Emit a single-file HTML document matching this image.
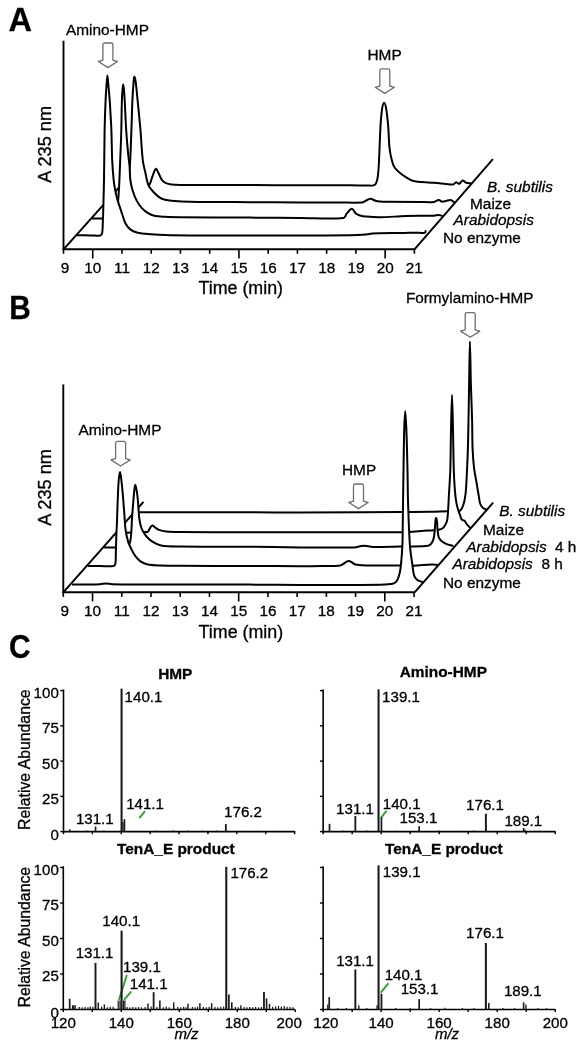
<!DOCTYPE html>
<html><head><meta charset="utf-8"><style>
html,body{margin:0;padding:0;background:#fff;width:585px;height:1050px;overflow:hidden}
svg{display:block;font-family:"Liberation Sans",sans-serif;will-change:transform;filter:blur(0.35px)}
text{fill:#000;stroke:#000;stroke-width:0.3px}
</style></head><body>
<svg width="585" height="1050" viewBox="0 0 585 1050">
<rect width="585" height="1050" fill="#fff"/>
<line x1="63.50" y1="40.70" x2="63.50" y2="250.25" stroke="#000" stroke-width="1.90"/>
<line x1="62.55" y1="249.30" x2="414.50" y2="249.30" stroke="#000" stroke-width="1.90"/>
<line x1="63.50" y1="249.30" x2="63.50" y2="253.70" stroke="#000" stroke-width="1.60"/>
<text x="64.90" y="272.70" font-size="15.30" font-weight="normal" font-style="normal" text-anchor="middle" >9</text>
<line x1="92.74" y1="249.30" x2="92.74" y2="258.50" stroke="#000" stroke-width="1.60"/>
<text x="92.74" y="272.70" font-size="15.30" font-weight="normal" font-style="normal" text-anchor="middle" >10</text>
<line x1="121.98" y1="249.30" x2="121.98" y2="253.70" stroke="#000" stroke-width="1.60"/>
<text x="121.98" y="272.70" font-size="15.30" font-weight="normal" font-style="normal" text-anchor="middle" >11</text>
<line x1="151.22" y1="249.30" x2="151.22" y2="253.70" stroke="#000" stroke-width="1.60"/>
<text x="151.22" y="272.70" font-size="15.30" font-weight="normal" font-style="normal" text-anchor="middle" >12</text>
<line x1="180.46" y1="249.30" x2="180.46" y2="253.70" stroke="#000" stroke-width="1.60"/>
<text x="180.46" y="272.70" font-size="15.30" font-weight="normal" font-style="normal" text-anchor="middle" >13</text>
<line x1="209.70" y1="249.30" x2="209.70" y2="253.70" stroke="#000" stroke-width="1.60"/>
<text x="209.70" y="272.70" font-size="15.30" font-weight="normal" font-style="normal" text-anchor="middle" >14</text>
<line x1="238.94" y1="249.30" x2="238.94" y2="258.50" stroke="#000" stroke-width="1.60"/>
<text x="238.94" y="272.70" font-size="15.30" font-weight="normal" font-style="normal" text-anchor="middle" >15</text>
<line x1="268.18" y1="249.30" x2="268.18" y2="253.70" stroke="#000" stroke-width="1.60"/>
<text x="268.18" y="272.70" font-size="15.30" font-weight="normal" font-style="normal" text-anchor="middle" >16</text>
<line x1="297.42" y1="249.30" x2="297.42" y2="253.70" stroke="#000" stroke-width="1.60"/>
<text x="297.42" y="272.70" font-size="15.30" font-weight="normal" font-style="normal" text-anchor="middle" >17</text>
<line x1="326.66" y1="249.30" x2="326.66" y2="253.70" stroke="#000" stroke-width="1.60"/>
<text x="326.66" y="272.70" font-size="15.30" font-weight="normal" font-style="normal" text-anchor="middle" >18</text>
<line x1="355.90" y1="249.30" x2="355.90" y2="253.70" stroke="#000" stroke-width="1.60"/>
<text x="355.90" y="272.70" font-size="15.30" font-weight="normal" font-style="normal" text-anchor="middle" >19</text>
<line x1="385.14" y1="249.30" x2="385.14" y2="258.50" stroke="#000" stroke-width="1.60"/>
<text x="385.14" y="272.70" font-size="15.30" font-weight="normal" font-style="normal" text-anchor="middle" >20</text>
<line x1="414.38" y1="249.30" x2="414.38" y2="253.70" stroke="#000" stroke-width="1.60"/>
<text x="414.38" y="272.70" font-size="15.30" font-weight="normal" font-style="normal" text-anchor="middle" >21</text>
<text x="240.75" y="293.60" font-size="17.85" font-weight="normal" font-style="normal" text-anchor="middle" >Time (min)</text>
<text x="51.00" y="144.35" font-size="18.20" font-weight="normal" font-style="normal" text-anchor="middle" transform="rotate(-90 51.0 144.35)">A 235 nm</text>
<line x1="63.50" y1="249.30" x2="139.00" y2="165.20" stroke="#000" stroke-width="2.00"/>
<line x1="414.50" y1="249.30" x2="492.90" y2="159.10" stroke="#000" stroke-width="2.00"/>
<path d="M121.00,185.10 C125.67,185.10 130.33,185.12 135.00,185.10 C138.33,185.09 141.67,185.07 145.00,185.00 C146.43,184.97 148.48,185.70 149.30,184.80 C150.88,183.07 151.16,179.64 152.20,177.10 C153.33,174.34 154.44,169.73 155.80,168.90 C156.58,168.43 157.78,171.70 158.60,173.20 C159.85,175.47 160.50,178.17 162.00,180.20 C162.96,181.50 164.51,182.53 166.00,183.20 C167.68,183.96 169.64,184.27 171.50,184.50 C174.30,184.84 177.16,184.88 180.00,184.90 C203.33,185.08 226.67,185.04 250.00,185.10 C266.67,185.14 283.33,185.17 300.00,185.20 C316.67,185.23 333.33,185.20 350.00,185.30 C356.33,185.34 362.67,185.57 369.00,185.60 C370.43,185.61 371.97,185.78 373.30,185.40 C374.27,185.12 375.44,184.49 375.90,183.60 C376.94,181.56 377.47,178.99 377.80,176.60 C378.51,171.45 378.72,166.21 379.00,161.00 C379.62,149.47 379.81,137.92 380.50,126.40 C380.85,120.55 381.22,114.66 382.10,108.90 C382.42,106.80 383.42,102.80 384.10,102.80 C384.79,102.80 385.83,106.79 386.20,108.90 C387.20,114.66 387.71,120.55 388.20,126.40 C388.74,132.79 388.74,139.22 389.30,145.60 C389.60,149.05 390.06,152.52 390.80,155.90 C391.56,159.35 392.32,162.95 393.80,166.10 C394.72,168.05 396.38,169.73 398.00,171.20 C400.52,173.49 403.33,175.56 406.20,177.40 C408.43,178.83 410.79,180.25 413.30,181.00 C416.06,181.82 419.09,181.86 422.00,182.10 C425.96,182.43 429.94,182.40 433.90,182.70 C437.91,183.00 441.90,183.52 445.90,183.90 C448.30,184.12 450.87,184.87 453.10,184.50 C454.27,184.31 455.05,182.30 456.10,182.20 C457.05,182.10 458.21,184.15 459.10,183.90 C460.38,183.55 461.33,180.61 462.60,180.40 C463.70,180.21 464.88,182.26 466.20,182.70 C467.85,183.26 469.73,183.17 471.50,183.40 Z" fill="#fff" stroke="none"/>
<path d="M121.00,185.10 C125.67,185.10 130.33,185.12 135.00,185.10 C138.33,185.09 141.67,185.07 145.00,185.00 C146.43,184.97 148.48,185.70 149.30,184.80 C150.88,183.07 151.16,179.64 152.20,177.10 C153.33,174.34 154.44,169.73 155.80,168.90 C156.58,168.43 157.78,171.70 158.60,173.20 C159.85,175.47 160.50,178.17 162.00,180.20 C162.96,181.50 164.51,182.53 166.00,183.20 C167.68,183.96 169.64,184.27 171.50,184.50 C174.30,184.84 177.16,184.88 180.00,184.90 C203.33,185.08 226.67,185.04 250.00,185.10 C266.67,185.14 283.33,185.17 300.00,185.20 C316.67,185.23 333.33,185.20 350.00,185.30 C356.33,185.34 362.67,185.57 369.00,185.60 C370.43,185.61 371.97,185.78 373.30,185.40 C374.27,185.12 375.44,184.49 375.90,183.60 C376.94,181.56 377.47,178.99 377.80,176.60 C378.51,171.45 378.72,166.21 379.00,161.00 C379.62,149.47 379.81,137.92 380.50,126.40 C380.85,120.55 381.22,114.66 382.10,108.90 C382.42,106.80 383.42,102.80 384.10,102.80 C384.79,102.80 385.83,106.79 386.20,108.90 C387.20,114.66 387.71,120.55 388.20,126.40 C388.74,132.79 388.74,139.22 389.30,145.60 C389.60,149.05 390.06,152.52 390.80,155.90 C391.56,159.35 392.32,162.95 393.80,166.10 C394.72,168.05 396.38,169.73 398.00,171.20 C400.52,173.49 403.33,175.56 406.20,177.40 C408.43,178.83 410.79,180.25 413.30,181.00 C416.06,181.82 419.09,181.86 422.00,182.10 C425.96,182.43 429.94,182.40 433.90,182.70 C437.91,183.00 441.90,183.52 445.90,183.90 C448.30,184.12 450.87,184.87 453.10,184.50 C454.27,184.31 455.05,182.30 456.10,182.20 C457.05,182.10 458.21,184.15 459.10,183.90 C460.38,183.55 461.33,180.61 462.60,180.40 C463.70,180.21 464.88,182.26 466.20,182.70 C467.85,183.26 469.73,183.17 471.50,183.40" fill="none" stroke="#000" stroke-width="2.00" stroke-linejoin="round" stroke-linecap="round"/>
<path d="M106.00,201.40 C110.00,201.40 114.00,201.51 118.00,201.40 C120.00,201.34 122.75,202.09 124.00,200.90 C125.91,199.09 126.92,195.38 127.50,192.40 C128.58,186.88 128.52,181.07 129.00,175.40 C129.42,170.40 129.93,165.41 130.20,160.40 C130.73,150.41 131.03,140.40 131.40,130.40 C131.77,120.40 131.97,110.40 132.40,100.40 C132.63,95.06 132.97,89.72 133.40,84.40 C133.60,81.86 133.83,77.69 134.30,76.80 C134.53,76.36 135.33,79.15 135.50,80.40 C136.43,87.02 136.93,93.73 137.60,100.40 C138.60,110.40 139.63,120.39 140.50,130.40 C141.37,140.39 141.66,150.45 142.80,160.40 C143.26,164.45 144.46,168.40 145.30,172.40 C145.86,175.07 146.30,177.77 147.00,180.40 C147.56,182.50 148.07,184.72 149.10,186.60 C150.13,188.48 151.69,190.13 153.20,191.70 C155.13,193.70 157.13,195.76 159.40,197.30 C161.06,198.42 163.06,199.15 165.00,199.70 C167.09,200.29 169.32,200.53 171.50,200.70 C177.65,201.19 183.83,201.58 190.00,201.70 C209.99,202.08 230.00,202.07 250.00,202.20 C266.67,202.31 283.33,202.34 300.00,202.40 C313.33,202.44 326.67,202.48 340.00,202.50 C347.37,202.51 354.81,202.88 362.10,202.50 C363.18,202.44 364.11,201.66 365.10,201.20 C366.84,200.39 368.54,198.79 370.30,198.70 C371.97,198.62 373.65,200.20 375.40,200.70 C376.89,201.13 378.46,201.33 380.00,201.50 C381.86,201.70 383.73,201.78 385.60,201.80 C397.06,201.94 408.53,201.95 420.00,202.00 C424.63,202.02 429.36,202.49 433.90,202.00 C435.60,201.82 437.11,200.06 438.70,200.00 C439.91,199.96 441.05,201.53 442.30,201.70 C443.48,201.86 444.77,201.25 446.00,201.00 C447.57,200.68 449.24,199.77 450.70,200.00 C452.00,200.20 453.10,201.53 454.30,202.30 Z" fill="#fff" stroke="none"/>
<path d="M106.00,201.40 C110.00,201.40 114.00,201.51 118.00,201.40 C120.00,201.34 122.75,202.09 124.00,200.90 C125.91,199.09 126.92,195.38 127.50,192.40 C128.58,186.88 128.52,181.07 129.00,175.40 C129.42,170.40 129.93,165.41 130.20,160.40 C130.73,150.41 131.03,140.40 131.40,130.40 C131.77,120.40 131.97,110.40 132.40,100.40 C132.63,95.06 132.97,89.72 133.40,84.40 C133.60,81.86 133.83,77.69 134.30,76.80 C134.53,76.36 135.33,79.15 135.50,80.40 C136.43,87.02 136.93,93.73 137.60,100.40 C138.60,110.40 139.63,120.39 140.50,130.40 C141.37,140.39 141.66,150.45 142.80,160.40 C143.26,164.45 144.46,168.40 145.30,172.40 C145.86,175.07 146.30,177.77 147.00,180.40 C147.56,182.50 148.07,184.72 149.10,186.60 C150.13,188.48 151.69,190.13 153.20,191.70 C155.13,193.70 157.13,195.76 159.40,197.30 C161.06,198.42 163.06,199.15 165.00,199.70 C167.09,200.29 169.32,200.53 171.50,200.70 C177.65,201.19 183.83,201.58 190.00,201.70 C209.99,202.08 230.00,202.07 250.00,202.20 C266.67,202.31 283.33,202.34 300.00,202.40 C313.33,202.44 326.67,202.48 340.00,202.50 C347.37,202.51 354.81,202.88 362.10,202.50 C363.18,202.44 364.11,201.66 365.10,201.20 C366.84,200.39 368.54,198.79 370.30,198.70 C371.97,198.62 373.65,200.20 375.40,200.70 C376.89,201.13 378.46,201.33 380.00,201.50 C381.86,201.70 383.73,201.78 385.60,201.80 C397.06,201.94 408.53,201.95 420.00,202.00 C424.63,202.02 429.36,202.49 433.90,202.00 C435.60,201.82 437.11,200.06 438.70,200.00 C439.91,199.96 441.05,201.53 442.30,201.70 C443.48,201.86 444.77,201.25 446.00,201.00 C447.57,200.68 449.24,199.77 450.70,200.00 C452.00,200.20 453.10,201.53 454.30,202.30" fill="none" stroke="#000" stroke-width="2.00" stroke-linejoin="round" stroke-linecap="round"/>
<path d="M92.50,218.40 C96.67,218.40 100.85,218.61 105.00,218.40 C107.35,218.28 109.98,218.34 112.00,217.40 C113.58,216.67 114.95,214.97 115.80,213.40 C116.75,211.63 117.01,209.43 117.40,207.40 C117.78,205.43 117.91,203.40 118.10,201.40 C118.31,199.07 118.44,196.73 118.60,194.40 C118.78,191.73 118.96,189.07 119.10,186.40 C119.29,182.73 119.44,179.07 119.60,175.40 C119.81,170.40 120.00,165.40 120.20,160.40 C120.40,155.40 120.62,150.40 120.80,145.40 C120.98,140.40 121.18,135.40 121.30,130.40 C121.54,120.40 121.60,110.40 121.90,100.40 C122.00,97.06 122.23,93.73 122.50,90.40 C122.66,88.36 122.95,84.30 123.20,84.30 C123.45,84.30 123.81,88.36 124.00,90.40 C124.31,93.73 124.52,97.06 124.70,100.40 C125.25,110.40 125.55,120.41 126.20,130.40 C126.75,138.74 127.52,147.08 128.30,155.40 C128.62,158.74 129.22,162.06 129.50,165.40 C129.92,170.39 129.77,175.45 130.40,180.40 C130.84,183.88 131.66,187.35 132.70,190.70 C133.79,194.19 135.10,197.68 136.80,200.90 C138.17,203.48 139.93,205.95 141.90,208.10 C143.69,210.05 145.85,211.79 148.10,213.20 C149.95,214.36 152.06,215.34 154.20,215.80 C157.70,216.54 161.39,216.60 165.00,216.80 C169.99,217.07 175.00,217.15 180.00,217.20 C203.33,217.42 226.67,217.46 250.00,217.60 C266.67,217.70 283.33,217.85 300.00,217.90 C314.53,217.95 329.70,219.15 343.60,217.90 C345.26,217.75 345.54,214.99 346.70,213.70 C348.27,211.95 350.17,208.84 351.80,208.80 C353.24,208.77 354.32,212.21 355.90,213.50 C357.05,214.44 358.56,215.07 360.00,215.50 C361.99,216.10 364.11,216.41 366.20,216.60 C370.78,217.01 375.40,217.37 380.00,217.30 C388.63,217.17 397.26,216.26 405.90,216.00 C415.23,215.72 424.59,216.01 433.90,215.70 C435.52,215.65 437.11,214.90 438.70,214.90 C439.71,214.90 440.70,215.43 441.70,215.70 Z" fill="#fff" stroke="none"/>
<path d="M92.50,218.40 C96.67,218.40 100.85,218.61 105.00,218.40 C107.35,218.28 109.98,218.34 112.00,217.40 C113.58,216.67 114.95,214.97 115.80,213.40 C116.75,211.63 117.01,209.43 117.40,207.40 C117.78,205.43 117.91,203.40 118.10,201.40 C118.31,199.07 118.44,196.73 118.60,194.40 C118.78,191.73 118.96,189.07 119.10,186.40 C119.29,182.73 119.44,179.07 119.60,175.40 C119.81,170.40 120.00,165.40 120.20,160.40 C120.40,155.40 120.62,150.40 120.80,145.40 C120.98,140.40 121.18,135.40 121.30,130.40 C121.54,120.40 121.60,110.40 121.90,100.40 C122.00,97.06 122.23,93.73 122.50,90.40 C122.66,88.36 122.95,84.30 123.20,84.30 C123.45,84.30 123.81,88.36 124.00,90.40 C124.31,93.73 124.52,97.06 124.70,100.40 C125.25,110.40 125.55,120.41 126.20,130.40 C126.75,138.74 127.52,147.08 128.30,155.40 C128.62,158.74 129.22,162.06 129.50,165.40 C129.92,170.39 129.77,175.45 130.40,180.40 C130.84,183.88 131.66,187.35 132.70,190.70 C133.79,194.19 135.10,197.68 136.80,200.90 C138.17,203.48 139.93,205.95 141.90,208.10 C143.69,210.05 145.85,211.79 148.10,213.20 C149.95,214.36 152.06,215.34 154.20,215.80 C157.70,216.54 161.39,216.60 165.00,216.80 C169.99,217.07 175.00,217.15 180.00,217.20 C203.33,217.42 226.67,217.46 250.00,217.60 C266.67,217.70 283.33,217.85 300.00,217.90 C314.53,217.95 329.70,219.15 343.60,217.90 C345.26,217.75 345.54,214.99 346.70,213.70 C348.27,211.95 350.17,208.84 351.80,208.80 C353.24,208.77 354.32,212.21 355.90,213.50 C357.05,214.44 358.56,215.07 360.00,215.50 C361.99,216.10 364.11,216.41 366.20,216.60 C370.78,217.01 375.40,217.37 380.00,217.30 C388.63,217.17 397.26,216.26 405.90,216.00 C415.23,215.72 424.59,216.01 433.90,215.70 C435.52,215.65 437.11,214.90 438.70,214.90 C439.71,214.90 440.70,215.43 441.70,215.70" fill="none" stroke="#000" stroke-width="2.00" stroke-linejoin="round" stroke-linecap="round"/>
<path d="M77.50,235.20 C81.67,235.27 85.83,235.36 90.00,235.40 C93.50,235.43 97.34,236.05 100.50,235.40 C101.41,235.21 102.04,233.87 102.20,232.90 C102.84,228.87 102.72,224.57 102.90,220.40 C103.12,215.07 103.25,209.73 103.40,204.40 C103.62,196.40 103.87,188.40 104.00,180.40 C104.27,163.73 104.27,147.06 104.60,130.40 C104.80,120.40 105.18,110.40 105.60,100.40 C105.81,95.40 106.14,90.40 106.50,85.40 C106.74,82.06 107.08,75.40 107.40,75.40 C107.72,75.40 108.09,82.06 108.40,85.40 C108.86,90.40 109.33,95.40 109.70,100.40 C110.07,105.40 110.32,110.40 110.60,115.40 C110.88,120.40 111.22,125.40 111.40,130.40 C111.76,140.40 111.74,150.41 112.20,160.40 C112.51,167.08 113.02,173.75 113.70,180.40 C114.05,183.85 114.62,187.30 115.30,190.70 C115.99,194.13 116.82,197.54 117.80,200.90 C119.02,205.04 120.51,209.11 121.90,213.20 C123.07,216.64 123.82,220.34 125.50,223.50 C126.72,225.80 128.54,228.06 130.60,229.60 C132.64,231.12 135.28,232.14 137.80,232.70 C142.14,233.67 146.72,233.81 151.20,234.20 C155.79,234.61 160.39,234.95 165.00,235.10 C173.33,235.38 181.67,235.46 190.00,235.50 C210.00,235.59 230.00,235.52 250.00,235.50 C266.67,235.48 283.33,235.43 300.00,235.40 C316.93,235.37 333.87,235.53 350.80,235.30 C355.94,235.23 361.08,234.90 366.20,234.50 C368.25,234.34 370.26,233.78 372.30,233.60 C374.86,233.38 377.43,233.36 380.00,233.30 C388.23,233.12 396.47,233.04 404.70,232.90 C408.30,232.84 411.90,232.74 415.50,232.70 C418.67,232.67 422.17,233.18 425.00,232.70 C425.54,232.61 425.40,231.57 425.60,231.00 Z" fill="#fff" stroke="none"/>
<path d="M77.50,235.20 C81.67,235.27 85.83,235.36 90.00,235.40 C93.50,235.43 97.34,236.05 100.50,235.40 C101.41,235.21 102.04,233.87 102.20,232.90 C102.84,228.87 102.72,224.57 102.90,220.40 C103.12,215.07 103.25,209.73 103.40,204.40 C103.62,196.40 103.87,188.40 104.00,180.40 C104.27,163.73 104.27,147.06 104.60,130.40 C104.80,120.40 105.18,110.40 105.60,100.40 C105.81,95.40 106.14,90.40 106.50,85.40 C106.74,82.06 107.08,75.40 107.40,75.40 C107.72,75.40 108.09,82.06 108.40,85.40 C108.86,90.40 109.33,95.40 109.70,100.40 C110.07,105.40 110.32,110.40 110.60,115.40 C110.88,120.40 111.22,125.40 111.40,130.40 C111.76,140.40 111.74,150.41 112.20,160.40 C112.51,167.08 113.02,173.75 113.70,180.40 C114.05,183.85 114.62,187.30 115.30,190.70 C115.99,194.13 116.82,197.54 117.80,200.90 C119.02,205.04 120.51,209.11 121.90,213.20 C123.07,216.64 123.82,220.34 125.50,223.50 C126.72,225.80 128.54,228.06 130.60,229.60 C132.64,231.12 135.28,232.14 137.80,232.70 C142.14,233.67 146.72,233.81 151.20,234.20 C155.79,234.61 160.39,234.95 165.00,235.10 C173.33,235.38 181.67,235.46 190.00,235.50 C210.00,235.59 230.00,235.52 250.00,235.50 C266.67,235.48 283.33,235.43 300.00,235.40 C316.93,235.37 333.87,235.53 350.80,235.30 C355.94,235.23 361.08,234.90 366.20,234.50 C368.25,234.34 370.26,233.78 372.30,233.60 C374.86,233.38 377.43,233.36 380.00,233.30 C388.23,233.12 396.47,233.04 404.70,232.90 C408.30,232.84 411.90,232.74 415.50,232.70 C418.67,232.67 422.17,233.18 425.00,232.70 C425.54,232.61 425.40,231.57 425.60,231.00" fill="none" stroke="#000" stroke-width="2.00" stroke-linejoin="round" stroke-linecap="round"/>
<text x="0" y="0" font-size="32.6" font-weight="bold" transform="translate(8.5 31.2) scale(1.0 1)">A</text>
<text x="66.00" y="35.30" font-size="15.40" font-weight="normal" font-style="normal" text-anchor="start" >Amino-HMP</text>
<path d="M102.90,60.20 V44.80 Q102.90,43.00 104.70,43.00 H111.10 Q112.90,43.00 112.90,44.80 V60.20 L117.50,61.50 L107.90,67.60 L98.30,61.50 Z" fill="#fff" stroke="#6e6e6e" stroke-width="1.3" stroke-linejoin="round"/>
<text x="367.50" y="60.40" font-size="15.40" font-weight="normal" font-style="normal" text-anchor="start" >HMP</text>
<path d="M379.80,86.00 V70.60 Q379.80,68.80 381.60,68.80 H388.00 Q389.80,68.80 389.80,70.60 V86.00 L394.40,87.30 L384.80,93.40 L375.20,87.30 Z" fill="#fff" stroke="#6e6e6e" stroke-width="1.3" stroke-linejoin="round"/>
<text x="487.00" y="191.50" font-size="15.40" font-weight="normal" font-style="italic" text-anchor="start" >B. subtilis</text>
<text x="470.00" y="209.00" font-size="15.40" font-weight="normal" font-style="normal" text-anchor="start" >Maize</text>
<text x="453.50" y="225.40" font-size="15.40" font-weight="normal" font-style="italic" text-anchor="start" >Arabidopsis</text>
<text x="443.00" y="243.40" font-size="15.40" font-weight="normal" font-style="normal" text-anchor="start" >No enzyme</text>
<line x1="63.30" y1="384.40" x2="63.30" y2="593.25" stroke="#000" stroke-width="1.90"/>
<line x1="62.35" y1="592.30" x2="414.60" y2="592.30" stroke="#000" stroke-width="1.90"/>
<line x1="63.30" y1="592.30" x2="63.30" y2="596.90" stroke="#000" stroke-width="1.60"/>
<text x="64.70" y="616.20" font-size="15.30" font-weight="normal" font-style="normal" text-anchor="middle" >9</text>
<line x1="92.53" y1="592.30" x2="92.53" y2="601.50" stroke="#000" stroke-width="1.60"/>
<text x="92.53" y="616.20" font-size="15.30" font-weight="normal" font-style="normal" text-anchor="middle" >10</text>
<line x1="121.76" y1="592.30" x2="121.76" y2="596.90" stroke="#000" stroke-width="1.60"/>
<text x="121.76" y="616.20" font-size="15.30" font-weight="normal" font-style="normal" text-anchor="middle" >11</text>
<line x1="150.99" y1="592.30" x2="150.99" y2="596.90" stroke="#000" stroke-width="1.60"/>
<text x="150.99" y="616.20" font-size="15.30" font-weight="normal" font-style="normal" text-anchor="middle" >12</text>
<line x1="180.22" y1="592.30" x2="180.22" y2="596.90" stroke="#000" stroke-width="1.60"/>
<text x="180.22" y="616.20" font-size="15.30" font-weight="normal" font-style="normal" text-anchor="middle" >13</text>
<line x1="209.45" y1="592.30" x2="209.45" y2="596.90" stroke="#000" stroke-width="1.60"/>
<text x="209.45" y="616.20" font-size="15.30" font-weight="normal" font-style="normal" text-anchor="middle" >14</text>
<line x1="238.68" y1="592.30" x2="238.68" y2="601.50" stroke="#000" stroke-width="1.60"/>
<text x="238.68" y="616.20" font-size="15.30" font-weight="normal" font-style="normal" text-anchor="middle" >15</text>
<line x1="267.91" y1="592.30" x2="267.91" y2="596.90" stroke="#000" stroke-width="1.60"/>
<text x="267.91" y="616.20" font-size="15.30" font-weight="normal" font-style="normal" text-anchor="middle" >16</text>
<line x1="297.14" y1="592.30" x2="297.14" y2="596.90" stroke="#000" stroke-width="1.60"/>
<text x="297.14" y="616.20" font-size="15.30" font-weight="normal" font-style="normal" text-anchor="middle" >17</text>
<line x1="326.37" y1="592.30" x2="326.37" y2="596.90" stroke="#000" stroke-width="1.60"/>
<text x="326.37" y="616.20" font-size="15.30" font-weight="normal" font-style="normal" text-anchor="middle" >18</text>
<line x1="355.60" y1="592.30" x2="355.60" y2="596.90" stroke="#000" stroke-width="1.60"/>
<text x="355.60" y="616.20" font-size="15.30" font-weight="normal" font-style="normal" text-anchor="middle" >19</text>
<line x1="384.83" y1="592.30" x2="384.83" y2="601.50" stroke="#000" stroke-width="1.60"/>
<text x="384.83" y="616.20" font-size="15.30" font-weight="normal" font-style="normal" text-anchor="middle" >20</text>
<line x1="414.06" y1="592.30" x2="414.06" y2="596.90" stroke="#000" stroke-width="1.60"/>
<text x="414.06" y="616.20" font-size="15.30" font-weight="normal" font-style="normal" text-anchor="middle" >21</text>
<text x="240.90" y="637.80" font-size="17.85" font-weight="normal" font-style="normal" text-anchor="middle" >Time (min)</text>
<text x="51.00" y="487.40" font-size="18.20" font-weight="normal" font-style="normal" text-anchor="middle" transform="rotate(-90 51.0 487.4)">A 235 nm</text>
<line x1="63.30" y1="592.30" x2="143.50" y2="501.80" stroke="#000" stroke-width="2.00"/>
<line x1="414.60" y1="592.30" x2="493.10" y2="502.70" stroke="#000" stroke-width="2.00"/>
<path d="M134.50,512.20 C136.13,512.23 137.77,512.29 139.40,512.30 C146.27,512.33 153.13,512.30 160.00,512.30 C190.00,512.30 220.00,512.26 250.00,512.30 C266.67,512.32 283.33,512.54 300.00,512.50 C333.60,512.41 367.20,512.08 400.80,511.90 C410.53,511.85 420.27,511.94 430.00,511.80 C435.97,511.71 441.93,511.36 447.90,511.20 C449.27,511.16 450.63,511.20 452.00,511.20 C453.33,511.20 454.67,511.16 456.00,511.20 C457.10,511.23 458.53,512.00 459.30,511.40 C460.90,510.16 462.33,507.81 463.10,505.70 C464.40,502.11 465.06,498.15 465.50,494.30 C466.33,487.05 466.52,479.70 466.90,472.40 C467.32,464.47 467.66,456.54 467.90,448.60 C468.19,439.07 468.32,429.53 468.50,420.00 C468.72,408.33 468.89,396.67 469.10,385.00 C469.36,370.50 469.60,341.50 469.90,341.50 C470.20,341.50 470.49,370.50 470.90,385.00 C471.23,396.67 471.79,408.33 472.10,420.00 C472.35,429.53 472.22,439.08 472.60,448.60 C472.85,454.94 473.28,461.30 474.00,467.60 C474.55,472.40 475.60,477.13 476.40,481.90 C477.20,486.67 477.97,491.44 478.80,496.20 C479.24,498.74 479.40,501.40 480.20,503.80 C480.67,505.20 481.56,506.58 482.60,507.60 C483.50,508.48 484.87,508.87 486.00,509.50 Z" fill="#fff" stroke="none"/>
<path d="M134.50,512.20 C136.13,512.23 137.77,512.29 139.40,512.30 C146.27,512.33 153.13,512.30 160.00,512.30 C190.00,512.30 220.00,512.26 250.00,512.30 C266.67,512.32 283.33,512.54 300.00,512.50 C333.60,512.41 367.20,512.08 400.80,511.90 C410.53,511.85 420.27,511.94 430.00,511.80 C435.97,511.71 441.93,511.36 447.90,511.20 C449.27,511.16 450.63,511.20 452.00,511.20 C453.33,511.20 454.67,511.16 456.00,511.20 C457.10,511.23 458.53,512.00 459.30,511.40 C460.90,510.16 462.33,507.81 463.10,505.70 C464.40,502.11 465.06,498.15 465.50,494.30 C466.33,487.05 466.52,479.70 466.90,472.40 C467.32,464.47 467.66,456.54 467.90,448.60 C468.19,439.07 468.32,429.53 468.50,420.00 C468.72,408.33 468.89,396.67 469.10,385.00 C469.36,370.50 469.60,341.50 469.90,341.50 C470.20,341.50 470.49,370.50 470.90,385.00 C471.23,396.67 471.79,408.33 472.10,420.00 C472.35,429.53 472.22,439.08 472.60,448.60 C472.85,454.94 473.28,461.30 474.00,467.60 C474.55,472.40 475.60,477.13 476.40,481.90 C477.20,486.67 477.97,491.44 478.80,496.20 C479.24,498.74 479.40,501.40 480.20,503.80 C480.67,505.20 481.56,506.58 482.60,507.60 C483.50,508.48 484.87,508.87 486.00,509.50" fill="none" stroke="#000" stroke-width="2.00" stroke-linejoin="round" stroke-linecap="round"/>
<path d="M117.00,532.00 C120.07,532.20 123.13,532.47 126.20,532.60 C127.80,532.67 129.40,532.63 131.00,532.60 C134.00,532.53 137.00,532.44 140.00,532.30 C141.37,532.24 142.73,532.07 144.10,532.00 C145.30,531.94 146.80,532.45 147.70,531.90 C148.67,531.31 148.96,529.65 149.70,528.60 C150.49,527.48 151.33,525.64 152.30,525.40 C153.06,525.21 154.01,526.70 154.90,527.30 C156.24,528.20 157.50,529.36 159.00,529.90 C161.27,530.72 163.77,531.17 166.20,531.40 C170.77,531.83 175.40,531.85 180.00,531.90 C203.33,532.15 226.67,532.24 250.00,532.30 C266.67,532.34 283.33,532.21 300.00,532.20 C333.33,532.18 366.68,532.62 400.00,532.20 C409.28,532.08 418.53,531.14 427.80,530.60 C429.93,530.48 432.07,530.36 434.20,530.20 C435.64,530.09 437.10,530.09 438.50,529.80 C439.83,529.52 441.31,529.24 442.40,528.50 C443.44,527.80 444.25,526.61 444.90,525.50 C445.82,523.91 446.66,522.18 447.10,520.40 C447.66,518.18 447.73,515.81 447.90,513.50 C448.33,507.54 448.57,501.57 448.90,495.60 C449.37,487.07 450.03,478.54 450.30,470.00 C450.73,456.67 450.70,443.33 451.00,430.00 C451.26,418.33 451.67,395.00 452.00,395.00 C452.33,395.00 452.72,418.33 453.00,430.00 C453.32,443.33 453.38,456.67 453.80,470.00 C454.01,476.84 454.36,483.68 454.90,490.50 C455.23,494.62 455.69,498.74 456.40,502.80 C456.89,505.57 457.71,508.30 458.50,511.00 C458.91,512.40 459.50,513.73 460.00,515.10 C460.50,516.47 460.78,518.00 461.50,519.20 C461.82,519.73 462.53,520.01 463.10,520.30 C463.56,520.54 464.24,520.45 464.60,520.80 C465.27,521.45 465.60,522.52 466.20,523.30 C467.30,524.72 468.53,526.03 469.70,527.40 Z" fill="#fff" stroke="none"/>
<path d="M117.00,532.00 C120.07,532.20 123.13,532.47 126.20,532.60 C127.80,532.67 129.40,532.63 131.00,532.60 C134.00,532.53 137.00,532.44 140.00,532.30 C141.37,532.24 142.73,532.07 144.10,532.00 C145.30,531.94 146.80,532.45 147.70,531.90 C148.67,531.31 148.96,529.65 149.70,528.60 C150.49,527.48 151.33,525.64 152.30,525.40 C153.06,525.21 154.01,526.70 154.90,527.30 C156.24,528.20 157.50,529.36 159.00,529.90 C161.27,530.72 163.77,531.17 166.20,531.40 C170.77,531.83 175.40,531.85 180.00,531.90 C203.33,532.15 226.67,532.24 250.00,532.30 C266.67,532.34 283.33,532.21 300.00,532.20 C333.33,532.18 366.68,532.62 400.00,532.20 C409.28,532.08 418.53,531.14 427.80,530.60 C429.93,530.48 432.07,530.36 434.20,530.20 C435.64,530.09 437.10,530.09 438.50,529.80 C439.83,529.52 441.31,529.24 442.40,528.50 C443.44,527.80 444.25,526.61 444.90,525.50 C445.82,523.91 446.66,522.18 447.10,520.40 C447.66,518.18 447.73,515.81 447.90,513.50 C448.33,507.54 448.57,501.57 448.90,495.60 C449.37,487.07 450.03,478.54 450.30,470.00 C450.73,456.67 450.70,443.33 451.00,430.00 C451.26,418.33 451.67,395.00 452.00,395.00 C452.33,395.00 452.72,418.33 453.00,430.00 C453.32,443.33 453.38,456.67 453.80,470.00 C454.01,476.84 454.36,483.68 454.90,490.50 C455.23,494.62 455.69,498.74 456.40,502.80 C456.89,505.57 457.71,508.30 458.50,511.00 C458.91,512.40 459.50,513.73 460.00,515.10 C460.50,516.47 460.78,518.00 461.50,519.20 C461.82,519.73 462.53,520.01 463.10,520.30 C463.56,520.54 464.24,520.45 464.60,520.80 C465.27,521.45 465.60,522.52 466.20,523.30 C467.30,524.72 468.53,526.03 469.70,527.40" fill="none" stroke="#000" stroke-width="2.00" stroke-linejoin="round" stroke-linecap="round"/>
<path d="M104.50,547.50 C107.00,547.50 109.50,547.50 112.00,547.50 C113.00,547.50 114.04,547.71 115.00,547.50 C116.04,547.27 116.95,546.44 118.00,546.20 C120.28,545.68 122.66,545.47 125.00,545.20 C126.16,545.07 127.70,545.61 128.50,545.00 C129.46,544.27 130.00,542.55 130.30,541.20 C130.94,538.29 131.07,535.21 131.30,532.20 C131.64,527.64 131.70,523.06 132.00,518.50 C132.33,513.43 132.79,508.37 133.20,503.30 C133.55,498.97 133.81,494.62 134.30,490.30 C134.51,488.45 134.92,484.82 135.30,484.80 C135.68,484.78 136.29,488.38 136.60,490.20 C137.12,493.28 137.49,496.39 137.80,499.50 C138.13,502.79 138.24,506.10 138.50,509.40 C138.74,512.44 138.88,515.49 139.30,518.50 C139.65,521.02 140.09,523.56 140.80,526.00 C141.36,527.93 142.13,529.84 143.10,531.60 C144.10,533.41 145.28,535.20 146.70,536.70 C148.52,538.63 150.55,540.51 152.80,541.90 C155.32,543.45 158.10,545.01 161.00,545.50 C167.16,546.54 173.66,546.41 180.00,546.50 C203.33,546.81 226.67,546.51 250.00,546.70 C266.67,546.84 283.33,547.35 300.00,547.50 C313.33,547.62 326.67,547.50 340.00,547.50 C343.33,547.50 346.67,547.52 350.00,547.50 C351.33,547.49 352.67,547.49 354.00,547.40 C355.17,547.32 356.35,547.21 357.50,547.00 C358.68,546.78 359.81,546.25 361.00,546.10 C362.65,545.89 364.34,545.83 366.00,545.90 C367.34,545.96 368.66,546.32 370.00,546.50 C371.33,546.68 372.66,547.00 374.00,547.00 C382.66,547.03 391.33,546.75 400.00,546.60 C408.70,546.45 417.48,546.70 426.10,546.10 C427.61,546.00 429.34,545.48 430.40,544.50 C431.77,543.24 432.82,541.25 433.40,539.40 C434.25,536.68 434.38,533.68 434.70,530.80 C435.08,527.41 435.11,523.98 435.50,520.60 C435.61,519.68 436.00,517.68 436.20,517.90 C436.53,518.25 436.94,520.82 437.10,522.30 C437.41,525.12 437.27,527.99 437.60,530.80 C437.87,533.12 438.09,535.57 438.90,537.70 C439.39,539.00 440.42,540.20 441.50,541.10 C442.99,542.34 444.80,543.34 446.60,544.10 C448.50,544.90 450.60,545.23 452.60,545.80 Z" fill="#fff" stroke="none"/>
<path d="M104.50,547.50 C107.00,547.50 109.50,547.50 112.00,547.50 C113.00,547.50 114.04,547.71 115.00,547.50 C116.04,547.27 116.95,546.44 118.00,546.20 C120.28,545.68 122.66,545.47 125.00,545.20 C126.16,545.07 127.70,545.61 128.50,545.00 C129.46,544.27 130.00,542.55 130.30,541.20 C130.94,538.29 131.07,535.21 131.30,532.20 C131.64,527.64 131.70,523.06 132.00,518.50 C132.33,513.43 132.79,508.37 133.20,503.30 C133.55,498.97 133.81,494.62 134.30,490.30 C134.51,488.45 134.92,484.82 135.30,484.80 C135.68,484.78 136.29,488.38 136.60,490.20 C137.12,493.28 137.49,496.39 137.80,499.50 C138.13,502.79 138.24,506.10 138.50,509.40 C138.74,512.44 138.88,515.49 139.30,518.50 C139.65,521.02 140.09,523.56 140.80,526.00 C141.36,527.93 142.13,529.84 143.10,531.60 C144.10,533.41 145.28,535.20 146.70,536.70 C148.52,538.63 150.55,540.51 152.80,541.90 C155.32,543.45 158.10,545.01 161.00,545.50 C167.16,546.54 173.66,546.41 180.00,546.50 C203.33,546.81 226.67,546.51 250.00,546.70 C266.67,546.84 283.33,547.35 300.00,547.50 C313.33,547.62 326.67,547.50 340.00,547.50 C343.33,547.50 346.67,547.52 350.00,547.50 C351.33,547.49 352.67,547.49 354.00,547.40 C355.17,547.32 356.35,547.21 357.50,547.00 C358.68,546.78 359.81,546.25 361.00,546.10 C362.65,545.89 364.34,545.83 366.00,545.90 C367.34,545.96 368.66,546.32 370.00,546.50 C371.33,546.68 372.66,547.00 374.00,547.00 C382.66,547.03 391.33,546.75 400.00,546.60 C408.70,546.45 417.48,546.70 426.10,546.10 C427.61,546.00 429.34,545.48 430.40,544.50 C431.77,543.24 432.82,541.25 433.40,539.40 C434.25,536.68 434.38,533.68 434.70,530.80 C435.08,527.41 435.11,523.98 435.50,520.60 C435.61,519.68 436.00,517.68 436.20,517.90 C436.53,518.25 436.94,520.82 437.10,522.30 C437.41,525.12 437.27,527.99 437.60,530.80 C437.87,533.12 438.09,535.57 438.90,537.70 C439.39,539.00 440.42,540.20 441.50,541.10 C442.99,542.34 444.80,543.34 446.60,544.10 C448.50,544.90 450.60,545.23 452.60,545.80" fill="none" stroke="#000" stroke-width="2.00" stroke-linejoin="round" stroke-linecap="round"/>
<path d="M88.50,566.00 C92.33,566.00 96.17,566.00 100.00,566.00 C104.57,566.00 109.45,566.63 113.70,566.00 C114.59,565.87 115.27,564.62 115.40,563.70 C116.01,559.35 115.75,554.70 115.90,550.20 C116.09,544.53 116.19,538.86 116.40,533.20 C116.49,530.86 116.71,528.54 116.80,526.20 C117.11,518.57 117.28,510.93 117.60,503.30 C117.92,495.66 118.09,488.01 118.70,480.40 C118.93,477.57 119.65,472.00 120.10,472.00 C120.55,472.00 121.07,477.59 121.40,480.40 C122.00,485.49 122.45,490.60 122.90,495.70 C123.45,502.03 123.90,508.37 124.40,514.70 C124.80,519.80 124.89,524.95 125.60,530.00 C126.16,534.01 127.04,538.03 128.20,541.90 C128.94,544.36 130.14,546.70 131.30,549.00 C132.54,551.46 133.77,554.00 135.40,556.20 C136.83,558.13 138.52,560.08 140.50,561.40 C142.62,562.81 145.18,563.90 147.70,564.40 C152.01,565.26 156.56,565.31 161.00,565.50 C167.32,565.77 173.67,565.76 180.00,565.80 C203.33,565.93 226.67,565.92 250.00,566.00 C266.67,566.06 283.33,566.18 300.00,566.20 C307.33,566.21 314.67,566.15 322.00,566.10 C325.33,566.08 328.67,566.05 332.00,566.00 C333.33,565.98 334.67,565.97 336.00,565.90 C337.33,565.83 338.72,565.91 340.00,565.60 C341.06,565.34 342.06,564.77 343.00,564.20 C344.06,563.57 344.93,562.62 346.00,562.00 C346.83,561.52 347.80,560.90 348.70,560.90 C349.63,560.90 350.63,561.52 351.50,562.00 C352.39,562.49 353.10,563.34 354.00,563.80 C354.93,564.27 355.97,564.61 357.00,564.80 C358.64,565.11 360.33,565.21 362.00,565.30 C364.00,565.41 366.00,565.39 368.00,565.40 C378.67,565.43 389.33,565.33 400.00,565.40 C404.40,565.43 408.80,565.82 413.20,565.70 C419.47,565.52 425.73,564.70 432.00,564.50 C433.90,564.44 435.80,564.77 437.70,564.90 Z" fill="#fff" stroke="none"/>
<path d="M88.50,566.00 C92.33,566.00 96.17,566.00 100.00,566.00 C104.57,566.00 109.45,566.63 113.70,566.00 C114.59,565.87 115.27,564.62 115.40,563.70 C116.01,559.35 115.75,554.70 115.90,550.20 C116.09,544.53 116.19,538.86 116.40,533.20 C116.49,530.86 116.71,528.54 116.80,526.20 C117.11,518.57 117.28,510.93 117.60,503.30 C117.92,495.66 118.09,488.01 118.70,480.40 C118.93,477.57 119.65,472.00 120.10,472.00 C120.55,472.00 121.07,477.59 121.40,480.40 C122.00,485.49 122.45,490.60 122.90,495.70 C123.45,502.03 123.90,508.37 124.40,514.70 C124.80,519.80 124.89,524.95 125.60,530.00 C126.16,534.01 127.04,538.03 128.20,541.90 C128.94,544.36 130.14,546.70 131.30,549.00 C132.54,551.46 133.77,554.00 135.40,556.20 C136.83,558.13 138.52,560.08 140.50,561.40 C142.62,562.81 145.18,563.90 147.70,564.40 C152.01,565.26 156.56,565.31 161.00,565.50 C167.32,565.77 173.67,565.76 180.00,565.80 C203.33,565.93 226.67,565.92 250.00,566.00 C266.67,566.06 283.33,566.18 300.00,566.20 C307.33,566.21 314.67,566.15 322.00,566.10 C325.33,566.08 328.67,566.05 332.00,566.00 C333.33,565.98 334.67,565.97 336.00,565.90 C337.33,565.83 338.72,565.91 340.00,565.60 C341.06,565.34 342.06,564.77 343.00,564.20 C344.06,563.57 344.93,562.62 346.00,562.00 C346.83,561.52 347.80,560.90 348.70,560.90 C349.63,560.90 350.63,561.52 351.50,562.00 C352.39,562.49 353.10,563.34 354.00,563.80 C354.93,564.27 355.97,564.61 357.00,564.80 C358.64,565.11 360.33,565.21 362.00,565.30 C364.00,565.41 366.00,565.39 368.00,565.40 C378.67,565.43 389.33,565.33 400.00,565.40 C404.40,565.43 408.80,565.82 413.20,565.70 C419.47,565.52 425.73,564.70 432.00,564.50 C433.90,564.44 435.80,564.77 437.70,564.90" fill="none" stroke="#000" stroke-width="2.00" stroke-linejoin="round" stroke-linecap="round"/>
<path d="M72.80,584.40 C78.53,584.43 84.27,584.54 90.00,584.50 C93.33,584.48 96.68,584.43 100.00,584.20 C102.01,584.06 104.00,583.40 106.00,583.40 C108.00,583.40 109.98,584.15 112.00,584.20 C124.65,584.49 137.33,584.36 150.00,584.40 C183.33,584.50 216.67,584.49 250.00,584.60 C266.67,584.66 283.33,584.89 300.00,584.90 C326.67,584.92 353.35,585.10 380.00,584.70 C384.52,584.63 389.30,584.60 393.50,583.50 C395.04,583.10 396.36,581.57 397.20,580.20 C398.39,578.27 399.06,575.87 399.60,573.60 C400.33,570.53 400.69,567.35 401.00,564.20 C401.62,557.95 402.14,551.68 402.40,545.40 C402.74,537.08 402.68,528.73 402.80,520.40 C403.04,503.73 403.24,487.07 403.50,470.40 C403.71,457.07 403.82,443.73 404.20,430.40 C404.38,423.99 404.83,411.20 405.20,411.20 C405.57,411.20 406.15,423.99 406.40,430.40 C406.92,443.73 407.20,457.07 407.50,470.40 C407.73,480.40 407.68,490.40 408.00,500.40 C408.48,515.40 408.89,530.43 409.90,545.40 C410.32,551.70 411.43,557.94 412.30,564.20 C412.83,567.98 413.02,571.93 414.10,575.50 C414.58,577.09 415.71,578.70 417.00,579.70 C418.54,580.90 420.73,581.30 422.60,582.10 Z" fill="#fff" stroke="none"/>
<path d="M72.80,584.40 C78.53,584.43 84.27,584.54 90.00,584.50 C93.33,584.48 96.68,584.43 100.00,584.20 C102.01,584.06 104.00,583.40 106.00,583.40 C108.00,583.40 109.98,584.15 112.00,584.20 C124.65,584.49 137.33,584.36 150.00,584.40 C183.33,584.50 216.67,584.49 250.00,584.60 C266.67,584.66 283.33,584.89 300.00,584.90 C326.67,584.92 353.35,585.10 380.00,584.70 C384.52,584.63 389.30,584.60 393.50,583.50 C395.04,583.10 396.36,581.57 397.20,580.20 C398.39,578.27 399.06,575.87 399.60,573.60 C400.33,570.53 400.69,567.35 401.00,564.20 C401.62,557.95 402.14,551.68 402.40,545.40 C402.74,537.08 402.68,528.73 402.80,520.40 C403.04,503.73 403.24,487.07 403.50,470.40 C403.71,457.07 403.82,443.73 404.20,430.40 C404.38,423.99 404.83,411.20 405.20,411.20 C405.57,411.20 406.15,423.99 406.40,430.40 C406.92,443.73 407.20,457.07 407.50,470.40 C407.73,480.40 407.68,490.40 408.00,500.40 C408.48,515.40 408.89,530.43 409.90,545.40 C410.32,551.70 411.43,557.94 412.30,564.20 C412.83,567.98 413.02,571.93 414.10,575.50 C414.58,577.09 415.71,578.70 417.00,579.70 C418.54,580.90 420.73,581.30 422.60,582.10" fill="none" stroke="#000" stroke-width="2.00" stroke-linejoin="round" stroke-linecap="round"/>
<text x="0" y="0" font-size="32.6" font-weight="bold" transform="translate(9.3 319.3) scale(0.915 1)">B</text>
<text x="78.50" y="435.30" font-size="15.40" font-weight="normal" font-style="normal" text-anchor="start" >Amino-HMP</text>
<path d="M115.60,458.60 V443.20 Q115.60,441.40 117.40,441.40 H123.80 Q125.60,441.40 125.60,443.20 V458.60 L130.20,459.90 L120.60,466.00 L111.00,459.90 Z" fill="#fff" stroke="#6e6e6e" stroke-width="1.3" stroke-linejoin="round"/>
<text x="342.00" y="475.10" font-size="15.40" font-weight="normal" font-style="normal" text-anchor="start" >HMP</text>
<path d="M353.50,501.20 V485.80 Q353.50,484.00 355.30,484.00 H361.70 Q363.50,484.00 363.50,485.80 V501.20 L368.10,502.50 L358.50,508.60 L348.90,502.50 Z" fill="#fff" stroke="#6e6e6e" stroke-width="1.3" stroke-linejoin="round"/>
<text x="405.90" y="302.80" font-size="15.30" font-weight="normal" font-style="normal" text-anchor="start" >Formylamino-HMP</text>
<path d="M465.20,329.80 V314.40 Q465.20,312.60 467.00,312.60 H473.40 Q475.20,312.60 475.20,314.40 V329.80 L479.80,331.10 L470.20,337.20 L460.60,331.10 Z" fill="#fff" stroke="#6e6e6e" stroke-width="1.3" stroke-linejoin="round"/>
<text x="499.30" y="516.40" font-size="15.40" font-weight="normal" font-style="italic" text-anchor="start" >B. subtilis</text>
<text x="483.00" y="535.00" font-size="15.40" font-weight="normal" font-style="normal" text-anchor="start" >Maize</text>
<text x="466.3" y="551.8" font-size="15.4"><tspan font-style="italic">Arabidopsis</tspan><tspan x="555" >4 h</tspan></text>
<text x="452.4" y="569.3" font-size="15.4"><tspan font-style="italic">Arabidopsis</tspan><tspan x="541.5" >8 h</tspan></text>
<text x="443.00" y="587.70" font-size="15.40" font-weight="normal" font-style="normal" text-anchor="start" >No enzyme</text>
<line x1="139.90" y1="817.40" x2="144.60" y2="811.70" stroke="#2ba42b" stroke-width="1.9" stroke-linecap="round"/>
<line x1="381.40" y1="817.40" x2="386.10" y2="811.20" stroke="#2ba42b" stroke-width="1.9" stroke-linecap="round"/>
<line x1="119.10" y1="999.20" x2="126.70" y2="975.60" stroke="#2ba42b" stroke-width="1.9" stroke-linecap="round"/>
<line x1="124.60" y1="999.20" x2="130.80" y2="992.10" stroke="#2ba42b" stroke-width="1.9" stroke-linecap="round"/>
<line x1="381.20" y1="992.20" x2="387.90" y2="983.80" stroke="#2ba42b" stroke-width="1.9" stroke-linecap="round"/>
<line x1="63.50" y1="689.40" x2="63.50" y2="832.40" stroke="#000" stroke-width="1.60"/>
<line x1="62.70" y1="831.60" x2="295.20" y2="831.60" stroke="#000" stroke-width="1.60"/>
<line x1="60.30" y1="831.60" x2="63.50" y2="831.60" stroke="#000" stroke-width="1.40"/>
<line x1="60.30" y1="796.35" x2="63.50" y2="796.35" stroke="#000" stroke-width="1.40"/>
<line x1="60.30" y1="761.10" x2="63.50" y2="761.10" stroke="#000" stroke-width="1.40"/>
<line x1="60.30" y1="725.85" x2="63.50" y2="725.85" stroke="#000" stroke-width="1.40"/>
<line x1="60.30" y1="690.60" x2="63.50" y2="690.60" stroke="#000" stroke-width="1.40"/>
<line x1="63.50" y1="831.60" x2="63.50" y2="834.20" stroke="#000" stroke-width="1.40"/>
<line x1="92.39" y1="831.60" x2="92.39" y2="834.20" stroke="#000" stroke-width="1.40"/>
<line x1="121.28" y1="831.60" x2="121.28" y2="834.20" stroke="#000" stroke-width="1.40"/>
<line x1="150.17" y1="831.60" x2="150.17" y2="834.20" stroke="#000" stroke-width="1.40"/>
<line x1="179.06" y1="831.60" x2="179.06" y2="834.20" stroke="#000" stroke-width="1.40"/>
<line x1="207.95" y1="831.60" x2="207.95" y2="834.20" stroke="#000" stroke-width="1.40"/>
<line x1="236.84" y1="831.60" x2="236.84" y2="834.20" stroke="#000" stroke-width="1.40"/>
<line x1="265.73" y1="831.60" x2="265.73" y2="834.20" stroke="#000" stroke-width="1.40"/>
<line x1="294.62" y1="831.60" x2="294.62" y2="834.20" stroke="#000" stroke-width="1.40"/>
<line x1="121.57" y1="831.60" x2="121.57" y2="688.63" stroke="#1a1a1a" stroke-width="2.07"/>
<line x1="123.01" y1="831.60" x2="123.01" y2="821.73" stroke="#1a1a1a" stroke-width="1.34"/>
<line x1="124.46" y1="831.60" x2="124.46" y2="819.05" stroke="#1a1a1a" stroke-width="1.59"/>
<line x1="95.57" y1="831.60" x2="95.57" y2="826.52" stroke="#1a1a1a" stroke-width="1.59"/>
<line x1="69.86" y1="831.60" x2="69.86" y2="829.34" stroke="#1a1a1a" stroke-width="1.46"/>
<line x1="225.86" y1="831.60" x2="225.86" y2="823.99" stroke="#1a1a1a" stroke-width="1.83"/>
<line x1="86.61" y1="831.60" x2="86.61" y2="830.47" stroke="#1a1a1a" stroke-width="1.22"/>
<line x1="103.95" y1="831.60" x2="103.95" y2="830.61" stroke="#1a1a1a" stroke-width="1.22"/>
<line x1="135.72" y1="831.60" x2="135.72" y2="830.75" stroke="#1a1a1a" stroke-width="1.22"/>
<line x1="155.95" y1="831.60" x2="155.95" y2="830.61" stroke="#1a1a1a" stroke-width="1.22"/>
<line x1="173.28" y1="831.60" x2="173.28" y2="830.33" stroke="#1a1a1a" stroke-width="1.22"/>
<line x1="187.73" y1="831.60" x2="187.73" y2="830.61" stroke="#1a1a1a" stroke-width="1.22"/>
<line x1="202.17" y1="831.60" x2="202.17" y2="830.61" stroke="#1a1a1a" stroke-width="1.22"/>
<line x1="216.62" y1="831.60" x2="216.62" y2="830.61" stroke="#1a1a1a" stroke-width="1.22"/>
<line x1="239.73" y1="831.60" x2="239.73" y2="830.75" stroke="#1a1a1a" stroke-width="1.22"/>
<line x1="257.06" y1="831.60" x2="257.06" y2="830.75" stroke="#1a1a1a" stroke-width="1.22"/>
<line x1="274.40" y1="831.60" x2="274.40" y2="830.75" stroke="#1a1a1a" stroke-width="1.22"/>
<text x="58.80" y="840.00" font-size="15.10" font-weight="normal" font-style="normal" text-anchor="end" >0</text>
<text x="58.80" y="803.75" font-size="15.10" font-weight="normal" font-style="normal" text-anchor="end" >25</text>
<text x="58.80" y="768.50" font-size="15.10" font-weight="normal" font-style="normal" text-anchor="end" >50</text>
<text x="58.80" y="733.25" font-size="15.10" font-weight="normal" font-style="normal" text-anchor="end" >75</text>
<text x="58.80" y="698.00" font-size="15.10" font-weight="normal" font-style="normal" text-anchor="end" >100</text>
<line x1="323.14" y1="689.40" x2="323.14" y2="832.40" stroke="#000" stroke-width="1.60"/>
<line x1="322.34" y1="831.60" x2="555.60" y2="831.60" stroke="#000" stroke-width="1.60"/>
<line x1="319.94" y1="831.60" x2="323.14" y2="831.60" stroke="#000" stroke-width="1.40"/>
<line x1="319.94" y1="796.35" x2="323.14" y2="796.35" stroke="#000" stroke-width="1.40"/>
<line x1="319.94" y1="761.10" x2="323.14" y2="761.10" stroke="#000" stroke-width="1.40"/>
<line x1="319.94" y1="725.85" x2="323.14" y2="725.85" stroke="#000" stroke-width="1.40"/>
<line x1="319.94" y1="690.60" x2="323.14" y2="690.60" stroke="#000" stroke-width="1.40"/>
<line x1="323.14" y1="831.60" x2="323.14" y2="834.20" stroke="#000" stroke-width="1.40"/>
<line x1="352.15" y1="831.60" x2="352.15" y2="834.20" stroke="#000" stroke-width="1.40"/>
<line x1="381.16" y1="831.60" x2="381.16" y2="834.20" stroke="#000" stroke-width="1.40"/>
<line x1="410.17" y1="831.60" x2="410.17" y2="834.20" stroke="#000" stroke-width="1.40"/>
<line x1="439.18" y1="831.60" x2="439.18" y2="834.20" stroke="#000" stroke-width="1.40"/>
<line x1="468.19" y1="831.60" x2="468.19" y2="834.20" stroke="#000" stroke-width="1.40"/>
<line x1="497.20" y1="831.60" x2="497.20" y2="834.20" stroke="#000" stroke-width="1.40"/>
<line x1="526.21" y1="831.60" x2="526.21" y2="834.20" stroke="#000" stroke-width="1.40"/>
<line x1="555.22" y1="831.60" x2="555.22" y2="834.20" stroke="#000" stroke-width="1.40"/>
<line x1="378.55" y1="831.60" x2="378.55" y2="689.33" stroke="#1a1a1a" stroke-width="2.07"/>
<line x1="381.45" y1="831.60" x2="381.45" y2="817.36" stroke="#1a1a1a" stroke-width="1.71"/>
<line x1="355.34" y1="831.60" x2="355.34" y2="815.95" stroke="#1a1a1a" stroke-width="1.83"/>
<line x1="329.52" y1="831.60" x2="329.52" y2="823.85" stroke="#1a1a1a" stroke-width="1.71"/>
<line x1="419.16" y1="831.60" x2="419.16" y2="826.24" stroke="#1a1a1a" stroke-width="1.71"/>
<line x1="485.89" y1="831.60" x2="485.89" y2="813.69" stroke="#1a1a1a" stroke-width="1.95"/>
<line x1="523.60" y1="831.60" x2="523.60" y2="827.93" stroke="#1a1a1a" stroke-width="1.59"/>
<line x1="525.05" y1="831.60" x2="525.05" y2="829.49" stroke="#1a1a1a" stroke-width="1.22"/>
<line x1="343.45" y1="831.60" x2="343.45" y2="830.61" stroke="#1a1a1a" stroke-width="1.22"/>
<line x1="366.65" y1="831.60" x2="366.65" y2="830.61" stroke="#1a1a1a" stroke-width="1.22"/>
<line x1="395.66" y1="831.60" x2="395.66" y2="830.75" stroke="#1a1a1a" stroke-width="1.22"/>
<line x1="439.18" y1="831.60" x2="439.18" y2="830.61" stroke="#1a1a1a" stroke-width="1.22"/>
<line x1="459.49" y1="831.60" x2="459.49" y2="830.75" stroke="#1a1a1a" stroke-width="1.22"/>
<line x1="473.99" y1="831.60" x2="473.99" y2="830.61" stroke="#1a1a1a" stroke-width="1.22"/>
<line x1="505.90" y1="831.60" x2="505.90" y2="830.61" stroke="#1a1a1a" stroke-width="1.22"/>
<line x1="540.71" y1="831.60" x2="540.71" y2="830.75" stroke="#1a1a1a" stroke-width="1.22"/>
<line x1="63.30" y1="866.30" x2="63.30" y2="1010.30" stroke="#000" stroke-width="1.60"/>
<line x1="62.50" y1="1009.50" x2="295.00" y2="1009.50" stroke="#000" stroke-width="1.60"/>
<line x1="60.10" y1="1009.50" x2="63.30" y2="1009.50" stroke="#000" stroke-width="1.40"/>
<line x1="60.10" y1="974.00" x2="63.30" y2="974.00" stroke="#000" stroke-width="1.40"/>
<line x1="60.10" y1="938.50" x2="63.30" y2="938.50" stroke="#000" stroke-width="1.40"/>
<line x1="60.10" y1="903.00" x2="63.30" y2="903.00" stroke="#000" stroke-width="1.40"/>
<line x1="60.10" y1="867.50" x2="63.30" y2="867.50" stroke="#000" stroke-width="1.40"/>
<line x1="63.30" y1="1009.50" x2="63.30" y2="1012.10" stroke="#000" stroke-width="1.40"/>
<line x1="92.30" y1="1009.50" x2="92.30" y2="1012.10" stroke="#000" stroke-width="1.40"/>
<line x1="121.30" y1="1009.50" x2="121.30" y2="1012.10" stroke="#000" stroke-width="1.40"/>
<line x1="150.30" y1="1009.50" x2="150.30" y2="1012.10" stroke="#000" stroke-width="1.40"/>
<line x1="179.30" y1="1009.50" x2="179.30" y2="1012.10" stroke="#000" stroke-width="1.40"/>
<line x1="208.30" y1="1009.50" x2="208.30" y2="1012.10" stroke="#000" stroke-width="1.40"/>
<line x1="237.30" y1="1009.50" x2="237.30" y2="1012.10" stroke="#000" stroke-width="1.40"/>
<line x1="266.30" y1="1009.50" x2="266.30" y2="1012.10" stroke="#000" stroke-width="1.40"/>
<line x1="295.30" y1="1009.50" x2="295.30" y2="1012.10" stroke="#000" stroke-width="1.40"/>
<line x1="226.28" y1="1009.50" x2="226.28" y2="866.79" stroke="#1a1a1a" stroke-width="2.07"/>
<line x1="121.59" y1="1009.50" x2="121.59" y2="930.69" stroke="#1a1a1a" stroke-width="2.07"/>
<line x1="95.49" y1="1009.50" x2="95.49" y2="962.92" stroke="#1a1a1a" stroke-width="1.95"/>
<line x1="69.68" y1="1009.50" x2="69.68" y2="998.71" stroke="#1a1a1a" stroke-width="1.71"/>
<line x1="72.58" y1="1009.50" x2="72.58" y2="1005.24" stroke="#1a1a1a" stroke-width="1.34"/>
<line x1="73.74" y1="1009.50" x2="73.74" y2="1005.24" stroke="#1a1a1a" stroke-width="1.34"/>
<line x1="75.19" y1="1009.50" x2="75.19" y2="1005.24" stroke="#1a1a1a" stroke-width="1.34"/>
<line x1="118.20" y1="1009.50" x2="118.20" y2="1000.41" stroke="#1a1a1a" stroke-width="1.22"/>
<line x1="120.00" y1="1009.50" x2="120.00" y2="1000.41" stroke="#1a1a1a" stroke-width="1.22"/>
<line x1="123.62" y1="1009.50" x2="123.62" y2="1000.41" stroke="#1a1a1a" stroke-width="1.22"/>
<line x1="124.92" y1="1009.50" x2="124.92" y2="1000.41" stroke="#1a1a1a" stroke-width="1.22"/>
<line x1="153.63" y1="1009.50" x2="153.63" y2="992.18" stroke="#1a1a1a" stroke-width="1.83"/>
<line x1="159.87" y1="1009.50" x2="159.87" y2="1000.41" stroke="#1a1a1a" stroke-width="1.59"/>
<line x1="147.98" y1="1009.50" x2="147.98" y2="1003.54" stroke="#1a1a1a" stroke-width="1.46"/>
<line x1="228.89" y1="1009.50" x2="228.89" y2="994.59" stroke="#1a1a1a" stroke-width="1.71"/>
<line x1="231.79" y1="1009.50" x2="231.79" y2="1002.26" stroke="#1a1a1a" stroke-width="1.59"/>
<line x1="263.98" y1="1009.50" x2="263.98" y2="992.03" stroke="#1a1a1a" stroke-width="1.83"/>
<line x1="266.59" y1="1009.50" x2="266.59" y2="998.42" stroke="#1a1a1a" stroke-width="1.59"/>
<line x1="269.49" y1="1009.50" x2="269.49" y2="1003.82" stroke="#1a1a1a" stroke-width="1.46"/>
<line x1="98.25" y1="1009.50" x2="98.25" y2="1002.40" stroke="#1a1a1a" stroke-width="1.46"/>
<line x1="104.34" y1="1009.50" x2="104.34" y2="1004.39" stroke="#1a1a1a" stroke-width="1.34"/>
<line x1="173.70" y1="1009.50" x2="173.70" y2="1002.40" stroke="#1a1a1a" stroke-width="1.46"/>
<line x1="188.00" y1="1009.50" x2="188.00" y2="1003.82" stroke="#1a1a1a" stroke-width="1.46"/>
<line x1="199.89" y1="1009.50" x2="199.89" y2="1003.25" stroke="#1a1a1a" stroke-width="1.46"/>
<line x1="211.63" y1="1009.50" x2="211.63" y2="1003.25" stroke="#1a1a1a" stroke-width="1.46"/>
<line x1="240.78" y1="1009.50" x2="240.78" y2="1005.24" stroke="#1a1a1a" stroke-width="1.34"/>
<line x1="79.25" y1="1009.50" x2="79.25" y2="1006.94" stroke="#1a1a1a" stroke-width="1.22"/>
<line x1="82.15" y1="1009.50" x2="82.15" y2="1007.37" stroke="#1a1a1a" stroke-width="1.22"/>
<line x1="85.05" y1="1009.50" x2="85.05" y2="1006.94" stroke="#1a1a1a" stroke-width="1.22"/>
<line x1="87.95" y1="1009.50" x2="87.95" y2="1007.37" stroke="#1a1a1a" stroke-width="1.22"/>
<line x1="90.27" y1="1009.50" x2="90.27" y2="1006.38" stroke="#1a1a1a" stroke-width="1.22"/>
<line x1="92.88" y1="1009.50" x2="92.88" y2="1006.66" stroke="#1a1a1a" stroke-width="1.22"/>
<line x1="101.58" y1="1009.50" x2="101.58" y2="1006.66" stroke="#1a1a1a" stroke-width="1.22"/>
<line x1="107.38" y1="1009.50" x2="107.38" y2="1007.37" stroke="#1a1a1a" stroke-width="1.22"/>
<line x1="110.28" y1="1009.50" x2="110.28" y2="1006.66" stroke="#1a1a1a" stroke-width="1.22"/>
<line x1="113.18" y1="1009.50" x2="113.18" y2="1006.66" stroke="#1a1a1a" stroke-width="1.22"/>
<line x1="127.10" y1="1009.50" x2="127.10" y2="1006.94" stroke="#1a1a1a" stroke-width="1.22"/>
<line x1="130.00" y1="1009.50" x2="130.00" y2="1007.37" stroke="#1a1a1a" stroke-width="1.22"/>
<line x1="132.90" y1="1009.50" x2="132.90" y2="1006.94" stroke="#1a1a1a" stroke-width="1.22"/>
<line x1="135.80" y1="1009.50" x2="135.80" y2="1007.37" stroke="#1a1a1a" stroke-width="1.22"/>
<line x1="138.70" y1="1009.50" x2="138.70" y2="1006.94" stroke="#1a1a1a" stroke-width="1.22"/>
<line x1="141.60" y1="1009.50" x2="141.60" y2="1007.37" stroke="#1a1a1a" stroke-width="1.22"/>
<line x1="145.08" y1="1009.50" x2="145.08" y2="1006.94" stroke="#1a1a1a" stroke-width="1.22"/>
<line x1="151.17" y1="1009.50" x2="151.17" y2="1006.38" stroke="#1a1a1a" stroke-width="1.22"/>
<line x1="156.97" y1="1009.50" x2="156.97" y2="1006.94" stroke="#1a1a1a" stroke-width="1.22"/>
<line x1="163.35" y1="1009.50" x2="163.35" y2="1007.37" stroke="#1a1a1a" stroke-width="1.22"/>
<line x1="166.25" y1="1009.50" x2="166.25" y2="1006.38" stroke="#1a1a1a" stroke-width="1.22"/>
<line x1="169.15" y1="1009.50" x2="169.15" y2="1007.37" stroke="#1a1a1a" stroke-width="1.22"/>
<line x1="177.85" y1="1009.50" x2="177.85" y2="1006.94" stroke="#1a1a1a" stroke-width="1.22"/>
<line x1="180.75" y1="1009.50" x2="180.75" y2="1007.37" stroke="#1a1a1a" stroke-width="1.22"/>
<line x1="183.65" y1="1009.50" x2="183.65" y2="1006.66" stroke="#1a1a1a" stroke-width="1.22"/>
<line x1="185.97" y1="1009.50" x2="185.97" y2="1007.37" stroke="#1a1a1a" stroke-width="1.22"/>
<line x1="192.35" y1="1009.50" x2="192.35" y2="1006.94" stroke="#1a1a1a" stroke-width="1.22"/>
<line x1="195.25" y1="1009.50" x2="195.25" y2="1007.37" stroke="#1a1a1a" stroke-width="1.22"/>
<line x1="197.57" y1="1009.50" x2="197.57" y2="1006.66" stroke="#1a1a1a" stroke-width="1.22"/>
<line x1="203.37" y1="1009.50" x2="203.37" y2="1006.94" stroke="#1a1a1a" stroke-width="1.22"/>
<line x1="206.27" y1="1009.50" x2="206.27" y2="1007.37" stroke="#1a1a1a" stroke-width="1.22"/>
<line x1="209.17" y1="1009.50" x2="209.17" y2="1006.66" stroke="#1a1a1a" stroke-width="1.22"/>
<line x1="214.97" y1="1009.50" x2="214.97" y2="1006.94" stroke="#1a1a1a" stroke-width="1.22"/>
<line x1="217.87" y1="1009.50" x2="217.87" y2="1007.37" stroke="#1a1a1a" stroke-width="1.22"/>
<line x1="220.77" y1="1009.50" x2="220.77" y2="1006.66" stroke="#1a1a1a" stroke-width="1.22"/>
<line x1="223.67" y1="1009.50" x2="223.67" y2="1006.38" stroke="#1a1a1a" stroke-width="1.22"/>
<line x1="235.27" y1="1009.50" x2="235.27" y2="1006.94" stroke="#1a1a1a" stroke-width="1.22"/>
<line x1="238.17" y1="1009.50" x2="238.17" y2="1007.37" stroke="#1a1a1a" stroke-width="1.22"/>
<line x1="243.97" y1="1009.50" x2="243.97" y2="1006.94" stroke="#1a1a1a" stroke-width="1.22"/>
<line x1="246.87" y1="1009.50" x2="246.87" y2="1007.37" stroke="#1a1a1a" stroke-width="1.22"/>
<line x1="249.77" y1="1009.50" x2="249.77" y2="1006.94" stroke="#1a1a1a" stroke-width="1.22"/>
<line x1="252.67" y1="1009.50" x2="252.67" y2="1007.37" stroke="#1a1a1a" stroke-width="1.22"/>
<line x1="255.57" y1="1009.50" x2="255.57" y2="1006.94" stroke="#1a1a1a" stroke-width="1.22"/>
<line x1="258.47" y1="1009.50" x2="258.47" y2="1007.37" stroke="#1a1a1a" stroke-width="1.22"/>
<line x1="261.37" y1="1009.50" x2="261.37" y2="1006.94" stroke="#1a1a1a" stroke-width="1.22"/>
<line x1="272.68" y1="1009.50" x2="272.68" y2="1006.66" stroke="#1a1a1a" stroke-width="1.22"/>
<line x1="275.58" y1="1009.50" x2="275.58" y2="1006.38" stroke="#1a1a1a" stroke-width="1.22"/>
<line x1="278.48" y1="1009.50" x2="278.48" y2="1005.95" stroke="#1a1a1a" stroke-width="1.22"/>
<line x1="281.38" y1="1009.50" x2="281.38" y2="1006.38" stroke="#1a1a1a" stroke-width="1.22"/>
<line x1="284.28" y1="1009.50" x2="284.28" y2="1005.95" stroke="#1a1a1a" stroke-width="1.22"/>
<line x1="287.18" y1="1009.50" x2="287.18" y2="1006.66" stroke="#1a1a1a" stroke-width="1.22"/>
<line x1="290.08" y1="1009.50" x2="290.08" y2="1006.94" stroke="#1a1a1a" stroke-width="1.22"/>
<line x1="292.98" y1="1009.50" x2="292.98" y2="1007.37" stroke="#1a1a1a" stroke-width="1.22"/>
<text x="58.80" y="1017.90" font-size="15.10" font-weight="normal" font-style="normal" text-anchor="end" >0</text>
<text x="58.80" y="981.40" font-size="15.10" font-weight="normal" font-style="normal" text-anchor="end" >25</text>
<text x="58.80" y="945.90" font-size="15.10" font-weight="normal" font-style="normal" text-anchor="end" >50</text>
<text x="58.80" y="910.40" font-size="15.10" font-weight="normal" font-style="normal" text-anchor="end" >75</text>
<text x="58.80" y="874.90" font-size="15.10" font-weight="normal" font-style="normal" text-anchor="end" >100</text>
<line x1="323.14" y1="866.30" x2="323.14" y2="1010.30" stroke="#000" stroke-width="1.60"/>
<line x1="322.34" y1="1009.50" x2="555.60" y2="1009.50" stroke="#000" stroke-width="1.60"/>
<line x1="319.94" y1="1009.50" x2="323.14" y2="1009.50" stroke="#000" stroke-width="1.40"/>
<line x1="319.94" y1="974.00" x2="323.14" y2="974.00" stroke="#000" stroke-width="1.40"/>
<line x1="319.94" y1="938.50" x2="323.14" y2="938.50" stroke="#000" stroke-width="1.40"/>
<line x1="319.94" y1="903.00" x2="323.14" y2="903.00" stroke="#000" stroke-width="1.40"/>
<line x1="319.94" y1="867.50" x2="323.14" y2="867.50" stroke="#000" stroke-width="1.40"/>
<line x1="323.14" y1="1009.50" x2="323.14" y2="1012.10" stroke="#000" stroke-width="1.40"/>
<line x1="352.15" y1="1009.50" x2="352.15" y2="1012.10" stroke="#000" stroke-width="1.40"/>
<line x1="381.16" y1="1009.50" x2="381.16" y2="1012.10" stroke="#000" stroke-width="1.40"/>
<line x1="410.17" y1="1009.50" x2="410.17" y2="1012.10" stroke="#000" stroke-width="1.40"/>
<line x1="439.18" y1="1009.50" x2="439.18" y2="1012.10" stroke="#000" stroke-width="1.40"/>
<line x1="468.19" y1="1009.50" x2="468.19" y2="1012.10" stroke="#000" stroke-width="1.40"/>
<line x1="497.20" y1="1009.50" x2="497.20" y2="1012.10" stroke="#000" stroke-width="1.40"/>
<line x1="526.21" y1="1009.50" x2="526.21" y2="1012.10" stroke="#000" stroke-width="1.40"/>
<line x1="555.22" y1="1009.50" x2="555.22" y2="1012.10" stroke="#000" stroke-width="1.40"/>
<line x1="378.55" y1="1009.50" x2="378.55" y2="865.37" stroke="#1a1a1a" stroke-width="2.07"/>
<line x1="485.89" y1="1009.50" x2="485.89" y2="943.04" stroke="#1a1a1a" stroke-width="2.07"/>
<line x1="355.34" y1="1009.50" x2="355.34" y2="969.46" stroke="#1a1a1a" stroke-width="1.95"/>
<line x1="381.45" y1="1009.50" x2="381.45" y2="993.74" stroke="#1a1a1a" stroke-width="1.83"/>
<line x1="419.16" y1="1009.50" x2="419.16" y2="999.13" stroke="#1a1a1a" stroke-width="1.71"/>
<line x1="329.23" y1="1009.50" x2="329.23" y2="997.15" stroke="#1a1a1a" stroke-width="1.71"/>
<line x1="327.78" y1="1009.50" x2="327.78" y2="1004.53" stroke="#1a1a1a" stroke-width="1.34"/>
<line x1="488.79" y1="1009.50" x2="488.79" y2="1002.97" stroke="#1a1a1a" stroke-width="1.59"/>
<line x1="523.60" y1="1009.50" x2="523.60" y2="1002.26" stroke="#1a1a1a" stroke-width="1.59"/>
<line x1="525.92" y1="1009.50" x2="525.92" y2="1004.53" stroke="#1a1a1a" stroke-width="1.34"/>
<line x1="358.82" y1="1009.50" x2="358.82" y2="1005.24" stroke="#1a1a1a" stroke-width="1.34"/>
<line x1="377.10" y1="1009.50" x2="377.10" y2="1005.24" stroke="#1a1a1a" stroke-width="1.34"/>
<line x1="337.64" y1="1009.50" x2="337.64" y2="1008.08" stroke="#1a1a1a" stroke-width="1.22"/>
<line x1="346.35" y1="1009.50" x2="346.35" y2="1008.08" stroke="#1a1a1a" stroke-width="1.22"/>
<line x1="366.65" y1="1009.50" x2="366.65" y2="1008.08" stroke="#1a1a1a" stroke-width="1.22"/>
<line x1="395.66" y1="1009.50" x2="395.66" y2="1008.08" stroke="#1a1a1a" stroke-width="1.22"/>
<line x1="410.17" y1="1009.50" x2="410.17" y2="1008.08" stroke="#1a1a1a" stroke-width="1.22"/>
<line x1="430.48" y1="1009.50" x2="430.48" y2="1008.08" stroke="#1a1a1a" stroke-width="1.22"/>
<line x1="444.98" y1="1009.50" x2="444.98" y2="1007.80" stroke="#1a1a1a" stroke-width="1.22"/>
<line x1="462.39" y1="1009.50" x2="462.39" y2="1008.08" stroke="#1a1a1a" stroke-width="1.22"/>
<line x1="473.99" y1="1009.50" x2="473.99" y2="1008.08" stroke="#1a1a1a" stroke-width="1.22"/>
<line x1="503.00" y1="1009.50" x2="503.00" y2="1008.08" stroke="#1a1a1a" stroke-width="1.22"/>
<line x1="514.61" y1="1009.50" x2="514.61" y2="1008.08" stroke="#1a1a1a" stroke-width="1.22"/>
<line x1="537.81" y1="1009.50" x2="537.81" y2="1008.08" stroke="#1a1a1a" stroke-width="1.22"/>
<line x1="546.52" y1="1009.50" x2="546.52" y2="1008.08" stroke="#1a1a1a" stroke-width="1.22"/>
<text x="63.30" y="1028.40" font-size="15.10" font-weight="normal" font-style="normal" text-anchor="middle" >120</text>
<text x="121.30" y="1028.40" font-size="15.10" font-weight="normal" font-style="normal" text-anchor="middle" >140</text>
<text x="179.30" y="1028.40" font-size="15.10" font-weight="normal" font-style="normal" text-anchor="middle" >160</text>
<text x="237.30" y="1028.40" font-size="15.10" font-weight="normal" font-style="normal" text-anchor="middle" >180</text>
<text x="289.20" y="1028.40" font-size="15.10" font-weight="normal" font-style="normal" text-anchor="middle" >200</text>
<text x="325.90" y="1028.40" font-size="15.10" font-weight="normal" font-style="normal" text-anchor="middle" >120</text>
<text x="381.16" y="1028.40" font-size="15.10" font-weight="normal" font-style="normal" text-anchor="middle" >140</text>
<text x="439.18" y="1028.40" font-size="15.10" font-weight="normal" font-style="normal" text-anchor="middle" >160</text>
<text x="497.20" y="1028.40" font-size="15.10" font-weight="normal" font-style="normal" text-anchor="middle" >180</text>
<text x="555.22" y="1028.40" font-size="15.10" font-weight="normal" font-style="normal" text-anchor="middle" >200</text>
<text x="186.50" y="1038.60" font-size="15.00" font-weight="normal" font-style="italic" text-anchor="middle" >m/z</text>
<text x="447.00" y="1038.80" font-size="15.00" font-weight="normal" font-style="italic" text-anchor="middle" >m/z</text>
<text x="30.00" y="759.65" font-size="15.80" font-weight="normal" font-style="normal" text-anchor="middle" transform="rotate(-90 30.0 759.65)">Relative Abundance</text>
<text x="30.00" y="937.15" font-size="15.80" font-weight="normal" font-style="normal" text-anchor="middle" transform="rotate(-90 30.0 937.15)">Relative Abundance</text>
<text x="175.30" y="678.80" font-size="15.40" font-weight="bold" font-style="normal" text-anchor="middle" >HMP</text>
<text x="443.30" y="677.20" font-size="15.40" font-weight="bold" font-style="normal" text-anchor="middle" >Amino-HMP</text>
<text x="175.90" y="854.10" font-size="15.40" font-weight="bold" font-style="normal" text-anchor="middle" >TenA_E product</text>
<text x="443.90" y="853.70" font-size="15.40" font-weight="bold" font-style="normal" text-anchor="middle" >TenA_E product</text>
<text x="0" y="0" font-size="32.6" font-weight="bold" transform="translate(9.0 657.9) scale(0.915 1)">C</text>
<text x="124.60" y="701.90" font-size="15.10" font-weight="normal" font-style="normal" text-anchor="start" >140.1</text>
<text x="75.90" y="823.50" font-size="15.10" font-weight="normal" font-style="normal" text-anchor="start" >131.1</text>
<text x="126.20" y="808.80" font-size="15.10" font-weight="normal" font-style="normal" text-anchor="start" >141.1</text>
<text x="224.10" y="816.70" font-size="15.10" font-weight="normal" font-style="normal" text-anchor="start" >176.2</text>
<text x="382.10" y="702.10" font-size="15.10" font-weight="normal" font-style="normal" text-anchor="start" >139.1</text>
<text x="336.10" y="813.80" font-size="15.10" font-weight="normal" font-style="normal" text-anchor="start" >131.1</text>
<text x="382.80" y="809.00" font-size="15.10" font-weight="normal" font-style="normal" text-anchor="start" >140.1</text>
<text x="399.50" y="823.10" font-size="15.10" font-weight="normal" font-style="normal" text-anchor="start" >153.1</text>
<text x="466.10" y="809.50" font-size="15.10" font-weight="normal" font-style="normal" text-anchor="start" >176.1</text>
<text x="504.40" y="825.50" font-size="15.10" font-weight="normal" font-style="normal" text-anchor="start" >189.1</text>
<text x="230.40" y="878.10" font-size="15.10" font-weight="normal" font-style="normal" text-anchor="start" >176.2</text>
<text x="102.30" y="926.10" font-size="15.10" font-weight="normal" font-style="normal" text-anchor="start" >140.1</text>
<text x="75.70" y="958.10" font-size="15.10" font-weight="normal" font-style="normal" text-anchor="start" >131.1</text>
<text x="123.00" y="972.20" font-size="15.10" font-weight="normal" font-style="normal" text-anchor="start" >139.1</text>
<text x="129.80" y="989.40" font-size="15.10" font-weight="normal" font-style="normal" text-anchor="start" >141.1</text>
<text x="382.80" y="876.50" font-size="15.10" font-weight="normal" font-style="normal" text-anchor="start" >139.1</text>
<text x="336.20" y="966.00" font-size="15.10" font-weight="normal" font-style="normal" text-anchor="start" >131.1</text>
<text x="384.70" y="980.00" font-size="15.10" font-weight="normal" font-style="normal" text-anchor="start" >140.1</text>
<text x="400.70" y="994.40" font-size="15.10" font-weight="normal" font-style="normal" text-anchor="start" >153.1</text>
<text x="466.10" y="937.80" font-size="15.10" font-weight="normal" font-style="normal" text-anchor="start" >176.1</text>
<text x="503.90" y="996.20" font-size="15.10" font-weight="normal" font-style="normal" text-anchor="start" >189.1</text>
</svg></body></html>
